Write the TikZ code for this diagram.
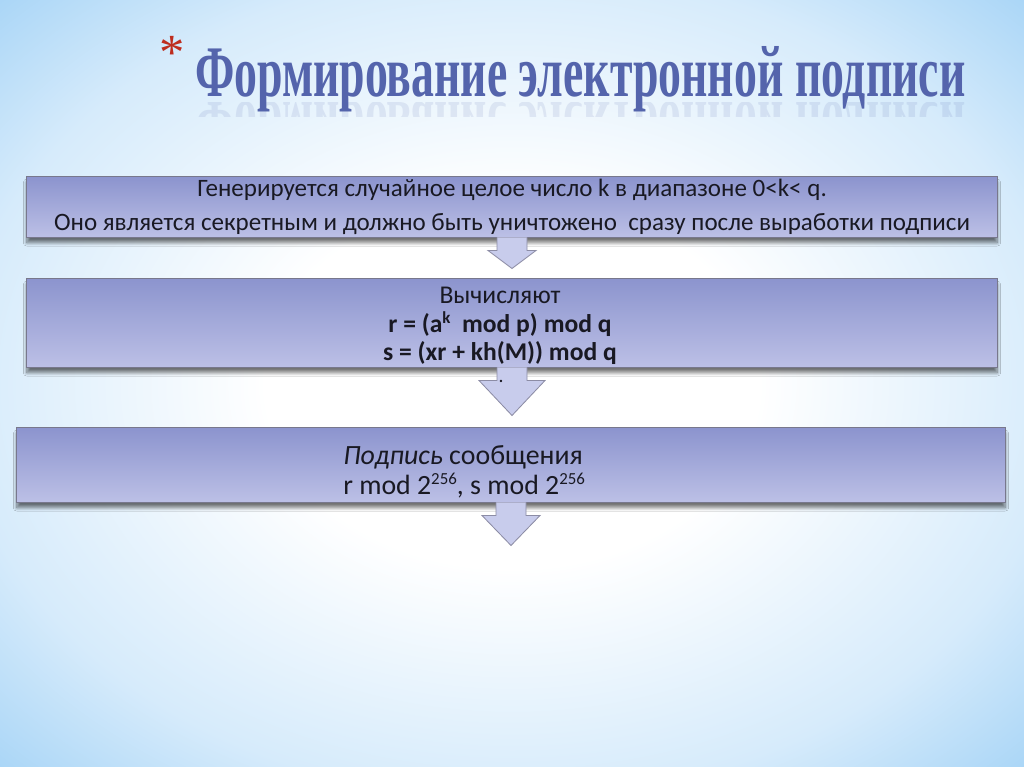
\documentclass[tikz,border=0pt]{standalone}
\usepackage{fontspec}
\setmainfont{Carlito}
\newfontfamily\titlefont{Liberation Serif}
\usepackage{xcolor}
\usetikzlibrary{positioning,calc,shadows.blur}

\definecolor{bgblue}{RGB}{162,210,246}
\definecolor{bglight}{RGB}{214,235,251}
\definecolor{boxtop}{RGB}{140,148,206}
\definecolor{boxbot}{RGB}{188,192,230}
\definecolor{boxline}{RGB}{120,120,140}
\definecolor{boxtext}{RGB}{25,25,35}
\definecolor{arrowfill}{RGB}{200,204,236}
\definecolor{arrowline}{RGB}{140,140,165}
\definecolor{titleblue}{RGB}{84,100,172}
\definecolor{starred}{RGB}{190,45,30}

\pgfdeclareradialshading{slidebg}{\pgfpoint{0bp}{0bp}}{color(0bp)=(white); color(12bp)=(white);
    color(27bp)=(bglight); color(37bp)=(bgblue); color(50bp)=(bgblue)}

\newcommand{\upidx}[1]{\raisebox{0.34em}{\fontsize{12}{12}\selectfont #1}}

\tikzset{
  stepbox/.style={draw=boxline, line width=0.7pt, top color=boxtop, bottom color=boxbot,
    blur shadow={shadow xshift=0pt, shadow yshift=-4pt, shadow blur radius=2.5pt, shadow blur steps=8, shadow opacity=55},
    inner sep=0pt, align=center, text=boxtext},
  steptext/.style={inner sep=0pt, text=boxtext},
  blockarrow/.style={draw=arrowline, line width=0.6pt, fill=arrowfill, line join=miter},
}

\begin{document}
\begin{tikzpicture}[x=0.025cm,y=0.025cm]
    \useasboundingbox (0,0) rectangle (1024,767);
    \shade[shading=slidebg] (0,0) rectangle (1024,767);

    % title with its reflection
    \node[anchor=north, inner sep=0pt, text=starred, font=\titlefont\fontsize{36}{36}\selectfont] (star) at (172,731) {*};
    \node[anchor=base west, inner sep=0pt, text=titleblue, font=\titlefont\bfseries] (title) at (195,670)
        {\resizebox{19.25cm}{1.25cm}{Формирование электронной подписи}};
    \begin{scope}
        \clip (150,664) rectangle (1000,650);
        \node[anchor=base west, inner sep=0pt, text=titleblue, opacity=0.12, font=\titlefont\bfseries,
            yscale=-1, transform shape] (mirror) at (195,664)
            {\resizebox{19.25cm}{1.25cm}{Формирование электронной подписи}};
    \end{scope}

    % three steps
    \node[stepbox, minimum width=24.25cm, minimum height=1.5cm, font=\fontsize{17.8}{24.2}\selectfont] (box1) at (512,560)
        {Генерируется случайное целое число k в диапазоне 0<k< q.\\
         Оно является секретным и должно быть уничтожено\ \ сразу после выработки подписи};
    \node[stepbox, minimum width=24.25cm, minimum height=2.2cm] (box2) at (512,444) {};
    \node[steptext, align=center, font=\fontsize{18.2}{20.2}\selectfont] (calc) at (500,441)
        {Вычисляют\\
         \textbf{r = (a\upidx{k}\ \ mod p) mod q}\\
         \textbf{s = (xr + kh(M)) mod q}};
    \node[stepbox, minimum width=24.7cm, minimum height=1.85cm] (box3) at (511,302) {};
    \node[steptext, anchor=west, align=left, font=\fontsize{19.8}{21}\selectfont] (sig) at (343,295)
        {\textit{Подпись} сообщения\\
         r mod 2\upidx{256}, s mod 2\upidx{256}};

    % arrows between steps
    \draw[blockarrow] ($(box1.south)+(-15,0)$) -- ++(0,-13) -- ++(-9,0) -- ($(box1.south)+(0,-31)$)
        -- ($(box1.south)+(24,-13)$) -- ++(-9,0) -- ($(box1.south)+(15,0)$);
    \draw[blockarrow] ($(box2.south)+(-15,0)$) -- ++(0,-13) -- ++(-18,0) -- ($(box2.south)+(0,-48)$)
        -- ($(box2.south)+(33,-13)$) -- ++(-18,0) -- ($(box2.south)+(15,0)$);
    \node[steptext, font=\fontsize{14}{14}\selectfont] (dot) at (501,386) {.};
    \draw[blockarrow] ($(box3.south)+(-15,0)$) -- ++(0,-13) -- ++(-14,0) -- ($(box3.south)+(0,-43)$)
        -- ($(box3.south)+(29,-13)$) -- ++(-14,0) -- ($(box3.south)+(15,0)$);
\end{tikzpicture}
\end{document}
